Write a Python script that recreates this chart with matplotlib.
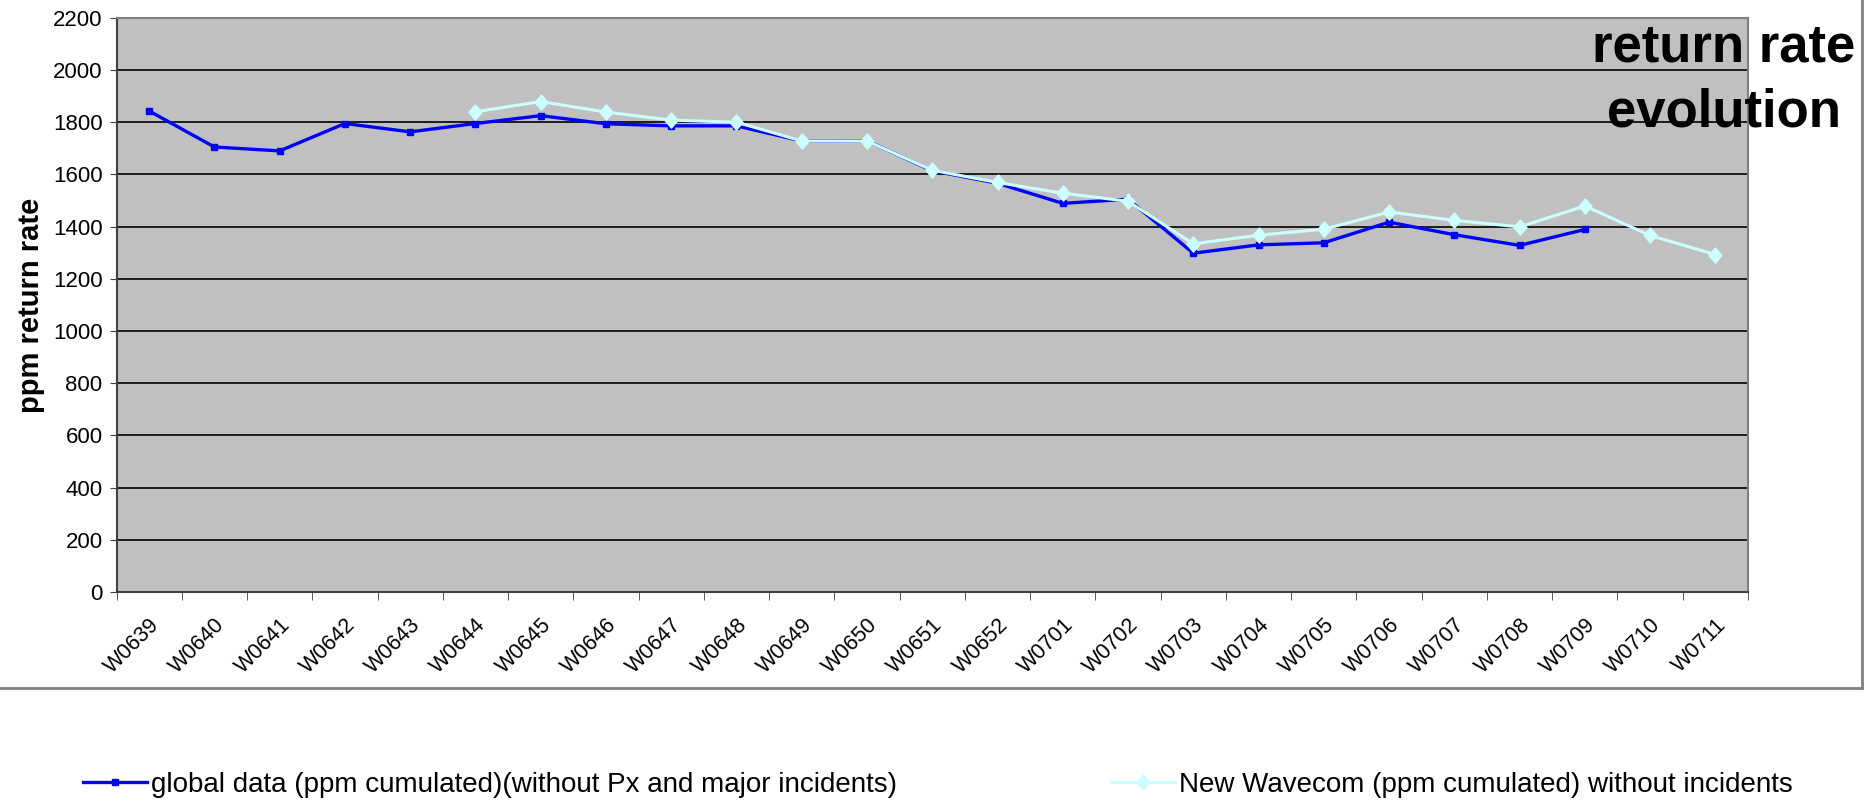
import numpy as np
import matplotlib.pyplot as plt
import matplotlib.transforms as mtransforms
from matplotlib.lines import Line2D

weeks = ['W0639', 'W0640', 'W0641', 'W0642', 'W0643', 'W0644', 'W0645',
         'W0646', 'W0647', 'W0648', 'W0649', 'W0650', 'W0651', 'W0652',
         'W0701', 'W0702', 'W0703', 'W0704', 'W0705', 'W0706', 'W0707',
         'W0708', 'W0709', 'W0710', 'W0711']

global_ppm = [1843, 1705, 1690, 1795, 1763, 1795, 1825, 1794, 1786, 1786,
              1728, 1729, 1614, 1566, 1489, 1505, 1298, 1330, 1338, 1417,
              1369, 1328, 1389, np.nan, np.nan]

new_wavecom = [np.nan, np.nan, np.nan, np.nan, np.nan, 1840, 1879, 1839,
               1808, 1800, 1728, 1728, 1616, 1569, 1528, 1497, 1334, 1367,
               1390, 1456, 1424, 1399, 1479, 1366, 1293]

label_global = 'global data (ppm cumulated)(without Px and major incidents)'
label_new = 'New Wavecom (ppm cumulated) without incidents'

plt.rcParams['font.family'] = ['Liberation Sans', 'DejaVu Sans']

W, H = 1864, 802
fig = plt.figure(figsize=(W / 100, H / 100), dpi=100)

left, right, top, bottom = 116.5, 1748, 17.8, 592
ax = fig.add_axes([left / W, 1 - bottom / H, (right - left) / W,
                   (bottom - top) / H])
ax.set_facecolor('#C0C0C0')

# diamond a bit slimmer than wide, like the Excel marker
diamond = [(0, 1), (0.85, 0), (0, -1), (-0.85, 0), (0, 1)]

x = np.arange(len(weeks))
ax.plot(x, global_ppm, color='#0000FF', lw=2.4, marker='s', markersize=4.5,
        zorder=3)
ax.plot(x, new_wavecom, color='#CCFFFF', lw=2.2, marker=diamond,
        markersize=11, zorder=4)

ax.set_xlim(-0.5, len(weeks) - 0.5)
ax.set_ylim(0, 2200)
ax.set_yticks(np.arange(0, 2201, 200))
ax.yaxis.grid(True, color='black', lw=1.2)
ax.set_axisbelow(True)

ax.set_xticks(x)
ax.set_xticklabels(weeks, rotation=45, ha='right', rotation_mode='anchor',
                   fontsize=15.5)
offset = mtransforms.ScaledTranslation(0.16, 0, fig.dpi_scale_trans)
for lab in ax.get_xticklabels():
    lab.set_transform(lab.get_transform() + offset)
ax.set_xticks(np.arange(-0.5, len(weeks)), minor=True)
ax.tick_params(axis='x', which='major', length=0, pad=16)
ax.tick_params(axis='x', which='minor', length=6, color='#404040')
ax.tick_params(axis='y', length=5, labelsize=16, color='#404040', pad=5)

for s in ['left', 'bottom']:
    ax.spines[s].set_color('#404040')
    ax.spines[s].set_linewidth(1.5)
for s in ['top', 'right']:
    ax.spines[s].set_color('#808080')
    ax.spines[s].set_linewidth(1.5)

ax.set_ylabel('ppm return rate', fontsize=21, fontweight='bold', labelpad=6)

fig.text(1724 / W, 1 - 80 / H, 'return rate\nevolution', fontsize=38,
         fontweight='bold', ha='center', va='center', linespacing=1.4)

# chart area border
fig.add_artist(Line2D([0, 1862 / W], [1 - 688 / H] * 2, color='#808080',
                      lw=2, transform=fig.transFigure))
fig.add_artist(Line2D([1862 / W] * 2, [1, 1 - 688 / H], color='#808080',
                      lw=2, transform=fig.transFigure))

h1 = Line2D([], [], color='#0000FF', lw=2.4, marker='s', markersize=4.5)
h2 = Line2D([], [], color='#CCFFFF', lw=2.2, marker=diamond, markersize=11)
fig.legend([h1], [label_global], loc='center left',
           bbox_to_anchor=(58 / W, 1 - 785 / H), frameon=False,
           fontsize=20, handlelength=2.3, handletextpad=0.15)
fig.legend([h2], [label_new], loc='center left',
           bbox_to_anchor=(1086 / W, 1 - 785 / H), frameon=False,
           fontsize=20, handlelength=2.3, handletextpad=0.15)

fig.savefig('out.png', dpi=100)
